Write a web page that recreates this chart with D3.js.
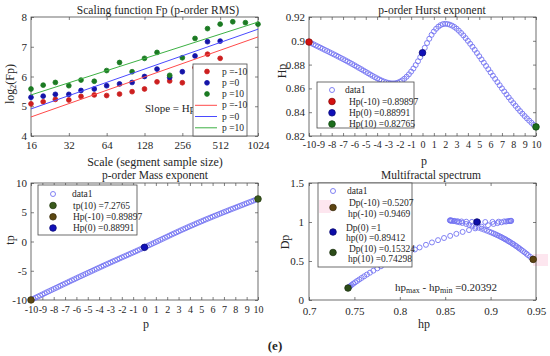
<!DOCTYPE html>
<html><head><meta charset="utf-8">
<script src="https://cdn.jsdelivr.net/npm/d3@7"></script>
<style>
body{margin:0;background:#fff}
svg{display:block}
text{font-family:"Liberation Serif","Times New Roman",serif;fill:#262626}
</style>
</head><body>
<svg id="chart" width="550" height="356"></svg>
<script>
// ---------- Panel 1: scaling function ----------
const scales = [16, 20, 25, 32, 40, 51, 64, 81, 102, 128, 161, 203, 256, 323, 406, 512, 645, 813, 1024];
const fpNeg10 = [5.08, 5.15, 5.23, 5.21, 5.33, 5.38, 5.36, 5.41, 5.49, 5.58, 5.82, 5.85, 5.79, 6.30, 6.75, 6.61];
const fp0     = [5.30, 5.34, 5.40, 5.40, 5.53, 5.58, 5.69, 5.75, 5.80, 6.00, 6.25, 5.97, 6.16, 6.69, 7.17, 7.19];
const fp10    = [5.58, 5.71, 5.80, 5.69, 5.88, 5.84, 6.20, 6.47, 6.16, 6.61, 6.81, 6.04, 6.63, 7.28, 7.61, 7.76, 7.84, 7.81, 7.76];
const fitScales = [16, 1024];
const fitNeg10 = [4.64, 7.33];
const fit0     = [4.91, 7.59];
const fit10    = [5.38, 7.83];
const scaleTicks = [16, 32, 64, 128, 256, 512, 1024];
const fpTicks = [4, 5, 6, 7, 8];

// ---------- Panel 2/3: p-order Hurst & mass exponent ----------
const pVals = [-10,-9.8,-9.6,-9.4,-9.2,-9,-8.8,-8.6,-8.4,-8.2,-8,-7.8,-7.6,-7.4,-7.2,-7,-6.8,-6.6,-6.4,-6.2,
  -6,-5.8,-5.6,-5.4,-5.2,-5,-4.8,-4.6,-4.4,-4.2,-4,-3.8,-3.6,-3.4,-3.2,-3,-2.8,-2.6,-2.4,-2.2,
  -2,-1.8,-1.6,-1.4,-1.2,-1,-0.8,-0.6,-0.4,-0.2,0,0.2,0.4,0.6,0.8,1,1.2,1.4,1.6,1.8,
  2,2.2,2.4,2.6,2.8,3,3.2,3.4,3.6,3.8,4,4.2,4.4,4.6,4.8,5,5.2,5.4,5.6,5.8,
  6,6.2,6.4,6.6,6.8,7,7.2,7.4,7.6,7.8,8,8.2,8.4,8.6,8.8,9,9.2,9.4,9.6,9.8,10];
const hurst = [0.89897,0.89801,0.89706,0.89612,0.89518,0.89424,0.89330,0.89236,0.89142,0.89047,
  0.88952,0.88856,0.88760,0.88662,0.88564,0.88465,0.88364,0.88262,0.88158,0.88052,
  0.87945,0.87836,0.87726,0.87615,0.87503,0.87390,0.87277,0.87165,0.87055,0.86948,
  0.86845,0.86748,0.86659,0.86580,0.86513,0.86460,0.86430,0.86420,0.86432,0.86475,
  0.86555,0.86670,0.86810,0.86980,0.87180,0.87410,0.87670,0.87960,0.88280,0.88620,
  0.88991,0.89412,0.89810,0.90170,0.90500,0.90780,0.91010,0.91190,0.91320,0.91400,
  0.91430,0.91410,0.91356,0.91276,0.91164,0.91020,0.90850,0.90660,0.90452,0.90230,
  0.89996,0.89752,0.89500,0.89241,0.88976,0.88704,0.88433,0.88161,0.87887,0.87614,
  0.87340,0.87067,0.86797,0.86528,0.86263,0.86001,0.85743,0.85490,0.85243,0.85000,
  0.84764,0.84533,0.84309,0.84091,0.83880,0.83677,0.83481,0.83293,0.83111,0.82937,0.82765];
const tau = [-9.9897,-9.8005,-9.6118,-9.4235,-9.2357,-9.0482,-8.8610,-8.6743,-8.4879,-8.3019,
  -8.1162,-7.9308,-7.7458,-7.5610,-7.3766,-7.1926,-7.0088,-6.8253,-6.6421,-6.4592,
  -6.2767,-6.0945,-5.9127,-5.7312,-5.5502,-5.3695,-5.1893,-5.0096,-4.8304,-4.6518,
  -4.4738,-4.2964,-4.1197,-3.9437,-3.7684,-3.5938,-3.4200,-3.2469,-3.0744,-2.9025,
  -2.7311,-2.5601,-2.3890,-2.2177,-2.0462,-1.8741,-1.7014,-1.5278,-1.3531,-1.1772,
  -1.0000,-0.8212,-0.6408,-0.4590,-0.2760,-0.0922,0.0921,0.2767,0.4611,0.6452,
  0.8286,1.0110,1.1925,1.3732,1.5526,1.7306,1.9072,2.0824,2.2563,2.4287,
  2.5998,2.7696,2.9380,3.1051,3.2708,3.4352,3.5985,3.7607,3.9217,4.0816,
  4.2404,4.3982,4.5550,4.7108,4.8659,5.0201,5.1735,5.3263,5.4785,5.6300,
  5.7811,5.9317,6.0820,6.2318,6.3814,6.5309,6.6803,6.8295,6.9787,7.1278,7.2765];
const pTicks = [-10,-9,-8,-7,-6,-5,-4,-3,-2,-1,0,1,2,3,4,5,6,7,8,9,10];
const hurstTicks = [0.82, 0.84, 0.86, 0.88, 0.9, 0.92];
const tauTicks = [-10, -5, 0, 5, 10];
const hurstMarkP = [-10, 0, 10];
const hurstMarkV = [0.89897, 0.88991, 0.82765];
const hurstMarkLabels = ["Hp(-10) =0.89897", "Hp(0) =0.88991", "Hp(10) =0.82765"];
const tauMarkP = [10, -10, 0];
const tauMarkV = [7.2765, -9.9897, -1.0];
const tauMarkLabels = ["tp(10) =7.2765", "Hp(-10) =0.89897", "Hp(0) =0.88991"];

// ---------- Panel 4: multifractal spectrum ----------
const specH = [0.9460,0.9436,0.9412,0.9394,0.9375,0.9356,0.9337,0.9318,0.9304,0.9285,
  0.9270,0.9250,0.9239,0.9219,0.9203,0.9190,0.9173,0.9159,0.9144,0.9126,
  0.9111,0.9092,0.9072,0.9053,0.9033,0.9010,0.8985,0.8959,0.8930,0.8901,
  0.8869,0.8835,0.8800,0.8765,0.8731,0.8688,0.8656,0.8628,0.8596,0.8568,
  0.8552,0.8555,0.8562,0.8578,0.8603,0.8637,0.8680,0.8732,0.8794,0.8862,
  0.8941,0.9021,0.9089,0.9149,0.9190,0.9216,0.9227,0.9223,0.9204,0.9170,
  0.9121,0.9076,0.9032,0.8971,0.8900,0.8830,0.8762,0.8692,0.8623,0.8555,
  0.8487,0.8421,0.8354,0.8288,0.8218,0.8166,0.8109,0.8049,0.7997,0.7939,
  0.7888,0.7843,0.7792,0.7752,0.7709,0.7671,0.7638,0.7608,0.7580,0.7554,
  0.7530,0.7508,0.7488,0.7470,0.7456,0.7446,0.7440,0.7435,0.7432,0.7430];
const specD = [0.5296,0.5531,0.5759,0.5935,0.6108,0.6278,0.6443,0.6605,0.6728,0.6884,
  0.7005,0.7155,0.7244,0.7389,0.7505,0.7596,0.7711,0.7804,0.7897,0.8010,
  0.8103,0.8214,0.8322,0.8428,0.8531,0.8644,0.8764,0.8887,0.9011,0.9135,
  0.9263,0.9391,0.9517,0.9636,0.9746,0.9874,0.9964,1.0037,1.0114,1.0176,
  1.0207,1.0202,1.0190,1.0168,1.0138,1.0104,1.0070,1.0038,1.0014,1.0000,
  1.0000,1.0016,1.0043,1.0079,1.0112,1.0138,1.0151,1.0146,1.0115,1.0054,
  0.9956,0.9857,0.9750,0.9592,0.9395,0.9184,0.8966,0.8727,0.8482,0.8222,
  0.7950,0.7672,0.7379,0.7074,0.6736,0.6477,0.6181,0.5857,0.5566,0.5232,
  0.4922,0.4643,0.4319,0.4053,0.3764,0.3498,0.3262,0.3040,0.2830,0.2630,
  0.2440,0.2262,0.2096,0.1942,0.1800,0.1700,0.1625,0.1575,0.1545,0.1532];
const specMarkH = [0.9469, 0.885, 0.74298];
const specMarkD = [0.5207, 1.0, 0.15324];
const specMarkLabels = [["Dp(-10) =0.5207", "hp(-10) =0.9469"], ["Dp(0) =1", "hp(0) =0.89412"], ["Dp(10) =0.15324", "hp(10) =0.74298"]];
const hTicks = [0.7, 0.75, 0.8, 0.85, 0.9, 0.95];
const dTicks = [0, 0.5, 1, 1.5];
const widthText = "=0.20392";

// ---------- drawing ----------
const FONT = '"Liberation Serif","Times New Roman",serif';
const svg = d3.select('#chart');
const CIRC = '#7474f2';
const AX = '#4a4a4a';
const plain = d => String(d);   // ASCII hyphen for negatives, like the original

function styleAxis(sel, size) {
  sel.select('.domain').remove();
  sel.selectAll('line').attr('stroke', AX).attr('stroke-width', 0.7);
  sel.selectAll('text').attr('fill', '#262626').style('font-family', FONT).style('font-size', (size || 11) + 'px');
}
const blank = () => '';
function panel(x, y, xt, yt, xf, yf, xpad, ypad, xsize) {
  const g = svg.append('g');
  const [L, R] = x.range(); const [B, T] = y.range();
  g.append('g').attr('transform', `translate(0,${B})`)
    .call(d3.axisBottom(x).tickValues(xt).tickFormat(xf).tickSize(-3).tickSizeOuter(0).tickPadding(xpad))
    .call(s => styleAxis(s, xsize));
  g.append('g').attr('transform', `translate(0,${T})`)
    .call(d3.axisTop(x).tickValues(xt).tickFormat(blank).tickSize(-3).tickSizeOuter(0)).call(s => styleAxis(s));
  g.append('g').attr('transform', `translate(${L},0)`)
    .call(d3.axisLeft(y).tickValues(yt).tickFormat(yf).tickSize(-3).tickSizeOuter(0).tickPadding(ypad)).call(s => styleAxis(s));
  g.append('g').attr('transform', `translate(${R},0)`)
    .call(d3.axisRight(y).tickValues(yt).tickFormat(blank).tickSize(-3).tickSizeOuter(0)).call(s => styleAxis(s));
  g.append('rect').attr('x', L).attr('y', T).attr('width', R - L).attr('height', B - T)
    .attr('fill', 'none').attr('stroke', AX).attr('stroke-width', 0.8);
  return g;
}
function label(t, x, y, size, opts = {}) {
  const el = svg.append('text').attr('x', x).attr('y', y).attr('text-anchor', opts.anchor || 'middle')
    .attr('dominant-baseline', 'central').style('font-size', size + 'px').text(t);
  if (opts.rotate) el.attr('transform', `rotate(-90,${x},${y})`);
  if (opts.bold) el.style('font-weight', 'bold');
  return el;
}
function dot(g, cx, cy, fill, r, stroke) {
  g.append('circle').attr('cx', cx).attr('cy', cy).attr('r', r).attr('fill', fill)
    .attr('stroke', stroke || d3.color(fill).darker(1.2)).attr('stroke-width', 0.8);
}
function ring(g, cx, cy) {
  g.append('circle').attr('cx', cx).attr('cy', cy).attr('r', 2.5).attr('fill', 'none')
    .attr('stroke', CIRC).attr('stroke-width', 0.9);
}
function legendRect(g, x, y, w, h) {
  g.append('rect').attr('x', x).attr('y', y).attr('width', w).attr('height', h)
    .attr('fill', '#fff').attr('stroke', AX).attr('stroke-width', 0.8);
}
function legText(g, t, x, y) {
  g.append('text').attr('x', x).attr('y', y).attr('dominant-baseline', 'central')
    .style('font-size', '9.5px').text(t);
}

// Panel 1
{
  const x = d3.scaleLog().base(2).domain([16, 1024]).range([31, 258]);
  const y = d3.scaleLinear().domain([4, 8]).range([136, 17]);
  const g = panel(x, y, scaleTicks, fpTicks, plain, plain, 5, 4);
  const line = d3.line().x(d => x(d[0])).y(d => y(d[1]));
  const series = [[fpNeg10, '#cc1f1f'], [fp0, '#1414a8'], [fp10, '#1b7a22']];
  series.forEach(([vals, c]) => vals.forEach((v, i) => dot(g, x(scales[i]), y(v), c, 2.4, c)));
  [[fitNeg10, '#ff4a4a'], [fit0, '#4a4aff'], [fit10, '#3cb043']].forEach(([vals, c]) =>
    g.append('path').attr('d', line(fitScales.map((s, i) => [s, vals[i]]))).attr('fill', 'none')
      .attr('stroke', c).attr('stroke-width', 1));
  g.append('text').attr('x', 145).attr('y', 108).attr('dominant-baseline', 'central')
    .style('font-size', '11px').text('Slope = Hp');
  const lg = svg.append('g');
  legendRect(lg, 193, 64, 54, 72);
  const rows = [71.5, 82.8, 94, 105.3, 116.5, 127.8];
  const names = ['p =-10', 'p =0', 'p =10'];
  series.forEach(([v, c], i) => { dot(lg, 207, rows[i], c, 2.4, c); legText(lg, names[i], 222, rows[i]); });
  [['#ff4a4a'], ['#4a4aff'], ['#3cb043']].forEach(([c], i) => {
    lg.append('line').attr('x1', 195).attr('x2', 217).attr('y1', rows[i + 3]).attr('y2', rows[i + 3])
      .attr('stroke', c).attr('stroke-width', 1);
    legText(lg, names[i], 222, rows[i + 3]);
  });
  label('Scaling function Fp (p-order RMS)', 158, 9.5, 11.5);
  label('Scale (segment sample size)', 155, 161.5, 12);
  const yl = svg.append('text').attr('transform', 'translate(10,84) rotate(-90)').attr('text-anchor', 'middle')
    .attr('dominant-baseline', 'central').style('font-size', '12px');
  yl.append('tspan').text('log');
  yl.append('tspan').attr('dy', 3).style('font-size', '8px').text('2');
  yl.append('tspan').attr('dy', -3).text('(Fp)');
}

// Panel 2
{
  const x = d3.scaleLinear().domain([-10, 10]).range([309, 536]);
  const y = d3.scaleLinear().domain([0.82, 0.92]).range([136, 17]);
  const g = panel(x, y, pTicks, hurstTicks, plain, plain, 5, 4, 10);
  pVals.forEach((p, i) => ring(g, x(p), y(hurst[i])));
  const cols = ['#d41010', '#1010b8', '#1c6e1c'];
  hurstMarkP.forEach((p, i) => dot(g, x(p), y(hurstMarkV[i]), cols[i], 3.3));
  const lg = svg.append('g');
  legendRect(lg, 317, 82, 97, 46);
  ring(lg, 332, 90); legText(lg, 'data1', 345, 90);
  [101.5, 112.8, 124].forEach((yy, i) => { dot(lg, 332, yy, cols[i], 3.3); legText(lg, hurstMarkLabels[i], 349, yy); });
  label('p-order Hurst exponent', 432, 9.5, 11.5);
  label('p', 424, 161, 12);
  label('Hp', 282, 71, 12, { rotate: true });
}

// Panel 3
{
  const x = d3.scaleLinear().domain([-10, 10]).range([31, 258]);
  const y = d3.scaleLinear().domain([-10, 10]).range([300, 183]);
  const g = panel(x, y, pTicks, tauTicks, plain, plain, 6, 4, 10);
  pVals.forEach((p, i) => ring(g, x(p), y(tau[i])));
  const cols = ['#3a5a1c', '#5c4812', '#1010b8'];
  tauMarkP.forEach((p, i) => dot(g, x(p), y(tauMarkV[i]), cols[i], 3.3));
  const lg = svg.append('g');
  legendRect(lg, 38, 185, 99, 50);
  ring(lg, 53, 194); legText(lg, 'data1', 72, 194);
  [205.5, 216.8, 228].forEach((yy, i) => { dot(lg, 53, yy, cols[i], 3.3); legText(lg, tauMarkLabels[i], 73, yy); });
  label('p-order Mass exponent', 155, 175, 11.5);
  label('p', 146, 324, 12);
  label('tp', 10, 240, 12, { rotate: true });
}

// Panel 4
{
  const x = d3.scaleLinear().domain([0.7, 0.95]).range([309, 536]);
  const y = d3.scaleLinear().domain([0, 1.5]).range([300, 183]);
  svg.append('rect').attr('x', 533).attr('y', 254).attr('width', 15).attr('height', 12).attr('fill', '#fde6ef');
  const g = panel(x, y, hTicks, dTicks, plain, plain, 7, 5);
  specH.forEach((h, i) => ring(g, x(h), y(specD[i])));
  const cols = ['#5c4412', '#0c0ca8', '#2c4c18'];
  specMarkH.forEach((h, i) => dot(g, x(h), y(specMarkD[i]), cols[i], 3.3));
  const lg = svg.append('g');
  legendRect(lg, 318, 183, 94, 84);
  lg.append('rect').attr('x', 319).attr('y', 200).attr('width', 12).attr('height', 13).attr('fill', '#fde6ef');
  ring(lg, 333, 191); legText(lg, 'data1', 347, 191);
  const my = [207.5, 232, 252.5];
  const ty = [[203, 213.5], [228, 238], [248.5, 259]];
  specMarkLabels.forEach((ls, i) => {
    dot(lg, 333, my[i], cols[i], 3.3);
    legText(lg, ls[0], i === 1 ? 346 : 349, ty[i][0]);
    legText(lg, ls[1], i === 1 ? 346 : 348, ty[i][1]);
  });
  const a = svg.append('text').attr('x', 395).attr('y', 287).attr('dominant-baseline', 'central').style('font-size', '11px');
  a.append('tspan').text('hp');
  a.append('tspan').attr('dy', 3).style('font-size', '8px').text('max');
  a.append('tspan').attr('dy', -3).text(' - hp');
  a.append('tspan').attr('dy', 3).style('font-size', '8px').text('min');
  a.append('tspan').attr('dy', -3).text(' ' + widthText);
  label('Multifractal spectrum', 431, 175, 11.5);
  label('hp', 424, 324, 12);
  label('Dp', 285, 242, 12, { rotate: true });
}

label('(e)', 275, 345, 13, { bold: true });
</script>
</body></html>
